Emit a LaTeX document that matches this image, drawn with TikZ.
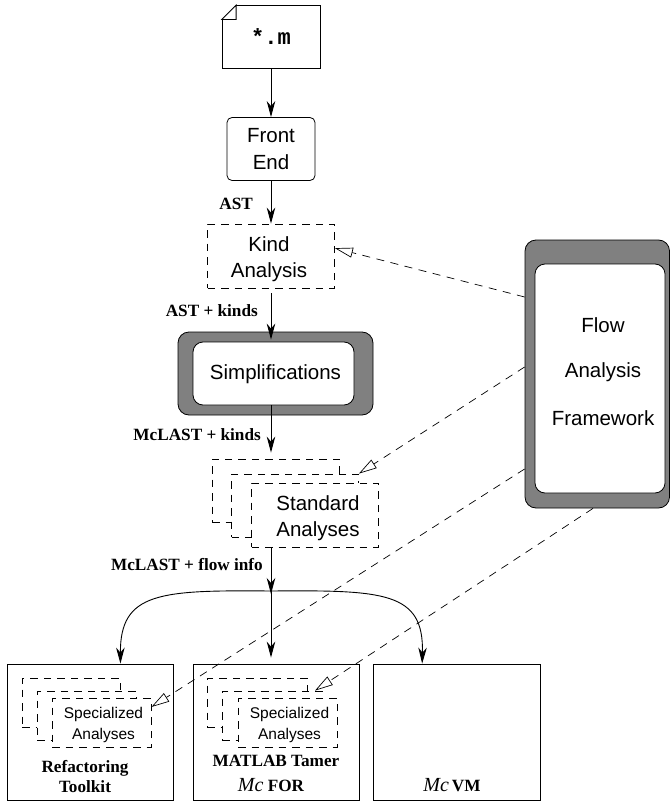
\documentclass[tikz,border=0pt]{standalone}
\usepackage{fontspec}
\setmainfont{Liberation Serif}
\setsansfont{Liberation Sans}
\setmonofont{Liberation Mono}
\usetikzlibrary{arrows.meta,calc}
\tikzset{
    big/.style={font=\sffamily\fontsize{20.5}{26.5}\selectfont, align=center},
    small/.style={font=\sffamily\fontsize{15.5}{21}\selectfont, align=center},
    tag/.style={font=\bfseries\fontsize{17.2}{19.5}\selectfont, align=center, inner sep=0pt},
    plainbox/.style={draw, line width=0.8pt, inner sep=0pt, minimum width=#1},
    softbox/.style={plainbox=#1, rounded corners=5pt},
    dashbox/.style={plainbox=#1, fill=white, dash pattern=on 7.5pt off 6pt},
    ring/.style={plainbox=#1, fill=gray, rounded corners=11pt},
    core/.style={plainbox=#1, fill=white, rounded corners=10pt},
    flow/.style={-{Stealth[length=16pt,width=8.5pt,inset=5pt]}, line width=0.9pt},
    uses/.style={-{Triangle[open,length=18pt,width=10pt]}, line width=0.7pt, dash pattern=on 8pt off 6.5pt}
}
\begin{document}
\begin{tikzpicture}[x=1pt, y=-1pt]
    \useasboundingbox (0,0) rectangle (670,802);
    % top of the chain
    \node[plainbox=98pt, minimum height=63pt, font=\ttfamily\bfseries\fontsize{22}{24}\selectfont] (source) at (271,37) {*.m};
    \fill[white] (source.north west) rectangle ([xshift=14.5pt,yshift=-14.5pt]source.north west);
    \draw[line width=0.8pt, white] (source.north west) -- ([xshift=14.5pt]source.north west);
    \draw[line width=0.8pt, white] (source.north west) -- ([yshift=-14.5pt]source.north west);
    \draw[line width=0.8pt] ([yshift=-14.5pt]source.north west) -- ([xshift=14.5pt]source.north west) -- ([xshift=14.5pt,yshift=-14.5pt]source.north west) -- cycle;
    \node[softbox=88pt, minimum height=63pt, big] (front) at (271,149) {Front\\End};
    \node[dashbox=127pt, minimum height=64pt] (kind) at (271,256) {};
    \node[big, inner sep=0pt] (kindtext) at (269,259) {Kind\\Analysis};
    \node[ring=195pt, minimum height=83pt] (simpring) at (275.5,373.5) {};
    \node[core=161pt, minimum height=63pt] (simp) at (273.5,373.5) {};
    \node[big, inner sep=0pt] (simptext) at (275.5,374.5) {Simplifications};
    % standard analyses
    \node[dashbox=127pt, minimum height=63pt] (stdback) at (275.5,490.5) {};
    \node[dashbox=127pt, minimum height=63pt] (stdmid) at (295,505.5) {};
    \node[dashbox=127pt, minimum height=64pt] (std) at (315,515) {};
    \node[big, inner sep=0pt] (stdtext) at (318,518) {Standard\\Analyses};
    % flow framework
    \node[ring=144.5pt, minimum height=268pt] (flowring) at (597.25,374) {};
    \node[core=130pt, minimum height=229pt] (flowcore) at (600,378.5) {};
    \node[big, inner sep=0pt] (flowa) at (603,325) {Flow};
    \node[big, inner sep=0pt] (flowb) at (603,372) {Analysis};
    \node[big, inner sep=0pt] (flowc) at (603,418) {Framework};
    % back ends
    \node[plainbox=166pt, minimum height=136pt] (toolkit) at (90,732) {};
    \node[plainbox=166pt, minimum height=136pt] (tamer) at (276,732) {};
    \node[plainbox=166.5pt, minimum height=136pt] (vm) at (457,732) {};
    \node[dashbox=98pt, minimum height=49pt] (specaback) at (71,702.5) {};
    \node[dashbox=99pt, minimum height=49pt] (specamid) at (86.5,715.5) {};
    \node[dashbox=99pt, minimum height=49pt] (speca) at (101.5,722.5) {};
    \node[small, inner sep=0pt] (specatext) at (103.5,725) {Specialized\\Analyses};
    \node[dashbox=100pt, minimum height=49pt] (specbback) at (257,702.5) {};
    \node[dashbox=100pt, minimum height=49pt] (specbmid) at (272,715.5) {};
    \node[dashbox=99pt, minimum height=49pt] (specb) at (287.5,722.5) {};
    \node[small, inner sep=0pt] (specbtext) at (289.5,725) {Specialized\\Analyses};
    % labels
    \node[tag, anchor=east] (astlabel) at (253,204) {AST};
    \node[tag, anchor=east] (kindlabel) at (258,311) {AST + kinds};
    \node[tag, anchor=east] (mclabel) at (261,435) {McLAST + kinds};
    \node[tag, anchor=east] (infolabel) at (263,565) {McLAST + flow info};
    \node[tag] (toolkitlabel) at (85,776.5) {Refactoring\\Toolkit};
    \node[tag] (tamerlabel) at (276,761) {MATLAB Tamer};
    \node[tag] (forlabel) at (271,785) {{\mdseries\itshape\fontsize{20}{20}\selectfont Mc} FOR};
    \node[tag] (vmlabel) at (452,785) {{\mdseries\itshape\fontsize{20}{20}\selectfont Mc}\,VM};
    % arrows down the chain
    \coordinate (split) at (271,591);
    \draw[flow] (source) -- (front);
    \draw[flow] (front) -- (kind);
    \draw[flow, shorten <=5pt, shorten >=2pt] (kind) -- (simp.north -| kind);
    \draw[flow, shorten >=6pt] (simp.south -| kind) -- (stdback.north -| kind);
    \draw[flow] (std.south -| kind) -- ([yshift=-3pt]split);
    \draw[flow, shorten >=6pt] (split) -- (split |- tamer.north);
    \draw[flow] (split) .. controls (160,590) and (120,592) .. (toolkit.66);
    \draw[flow] (split) .. controls (385,590) and (424,592) .. (vm.117);
    % dashed links from the framework
    \draw[uses] (flowring.west |- 0,297) -- (kind.7);
    \draw[uses] (flowring.west |- 0,367) -- (stdmid.north east);
    \draw[uses] (flowring.west |- 0,469) -- (speca.east |- 0,707);
    \draw[uses] (flowring.south -| 593,0) -- (specbmid.north east -| 315,0);
\end{tikzpicture}
\end{document}
